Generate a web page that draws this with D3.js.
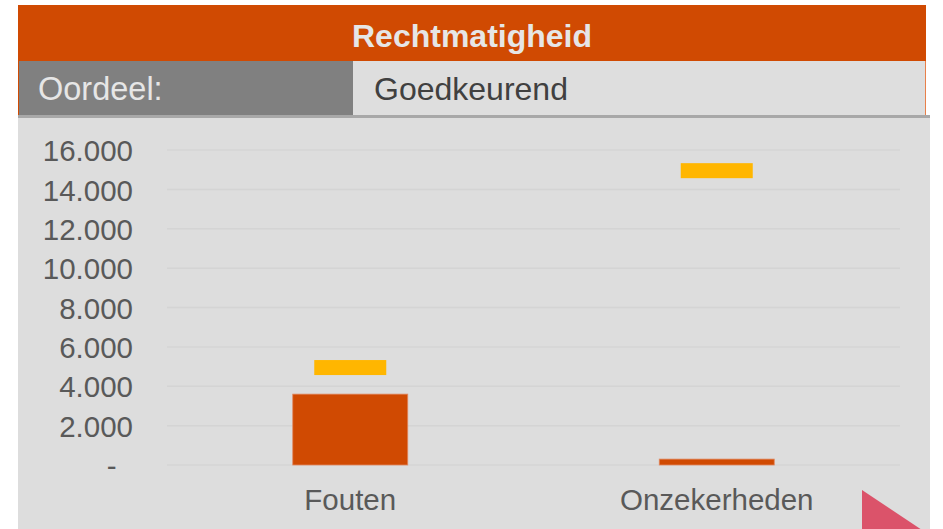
<!DOCTYPE html>
<html>
<head>
<meta charset="utf-8">
<script src="https://cdn.jsdelivr.net/npm/d3@7"></script>
<style>
  body { margin: 0; background: #fff; }
  svg { display: block; font-family: "Liberation Sans", Arial, sans-serif; }
</style>
</head>
<body>
<svg width="943" height="529"></svg>
<script>
// data
const title = 'Rechtmatigheid';
const oordeelLabel = 'Oordeel:';
const oordeelValue = 'Goedkeurend';
const categories = ['Fouten', 'Onzekerheden'];
const barValues = [3600, 300];
const markerValues = [4950, 14950];
const yTicks = [0, 2000, 4000, 6000, 8000, 10000, 12000, 14000, 16000];

const svg = d3.select('svg');

// header
svg.append('rect').attr('x', 18).attr('y', 5).attr('width', 908).attr('height', 56).attr('fill', '#D04A02');
svg.append('text').attr('x', 472).attr('y', 47).attr('text-anchor', 'middle')
  .attr('font-size', 32).attr('font-weight', 'bold').attr('fill', '#E6E6E6').text(title);

svg.append('rect').attr('x', 18).attr('y', 61).attr('width', 335).attr('height', 54).attr('fill', '#808080');
svg.append('rect').attr('x', 353).attr('y', 61).attr('width', 573).attr('height', 54).attr('fill', '#DEDEDE');
svg.append('line').attr('x1', 18.5).attr('x2', 18.5).attr('y1', 61).attr('y2', 115).attr('stroke', '#D04A02');
svg.append('line').attr('x1', 925.5).attr('x2', 925.5).attr('y1', 61).attr('y2', 115).attr('stroke', '#E8804A');
svg.append('rect').attr('x', 18).attr('y', 115).attr('width', 912).attr('height', 3).attr('fill', '#A8A8A8');
svg.append('text').attr('x', 38).attr('y', 100).attr('font-size', 32.5).attr('fill', '#E6E6E6').text(oordeelLabel);
svg.append('text').attr('x', 374).attr('y', 100).attr('font-size', 32).attr('fill', '#404040').text(oordeelValue);

// chart area
svg.append('rect').attr('x', 18).attr('y', 118).attr('width', 912).attr('height', 411).attr('fill', '#DDDDDD');

const x = d3.scaleBand().domain(categories).range([167, 900]);
const y = d3.scaleLinear().domain([0, 16000]).range([465, 150]);

const fmt = d => d === 0 ? '-\u00A0\u00A0' : d3.format(',')(d).replace(/,/g, '.');

// gridlines
svg.append('g').selectAll('line').data(yTicks).join('line')
  .attr('x1', 167).attr('x2', 900)
  .attr('y1', d => y(d)).attr('y2', d => y(d))
  .attr('stroke', '#D4D4D4').attr('stroke-width', 1.5);

// y axis
const yAxis = svg.append('g').attr('transform', 'translate(133,0)')
  .call(d3.axisLeft(y).tickValues(yTicks).tickFormat(fmt).tickSize(0).tickPadding(0));
yAxis.select('.domain').remove();
yAxis.selectAll('text').attr('font-size', 29.5).attr('fill', '#595959')
  .attr('font-family', '"Liberation Sans", Arial, sans-serif').attr('dy', '0.36em');

// x axis labels
const xAxis = svg.append('g').attr('transform', 'translate(0,510)')
  .call(d3.axisBottom(x).tickSize(0).tickPadding(0));
xAxis.select('.domain').remove();
xAxis.selectAll('text').attr('font-size', 29.5).attr('fill', '#595959')
  .attr('font-family', '"Liberation Sans", Arial, sans-serif').attr('dy', 0);

// bars
const barW = 115;
svg.append('g').selectAll('rect').data(categories).join('rect')
  .attr('x', d => x(d) + x.bandwidth() / 2 - barW / 2)
  .attr('y', (d, i) => y(barValues[i]))
  .attr('width', barW)
  .attr('height', (d, i) => y(0) - y(barValues[i]))
  .attr('fill', '#D04A02')
  .attr('stroke', '#E08860').attr('stroke-width', 0.8);

// target markers
const markW = 72, markH = 15;
svg.append('g').selectAll('rect').data(categories).join('rect')
  .attr('x', d => x(d) + x.bandwidth() / 2 - markW / 2)
  .attr('y', (d, i) => y(markerValues[i]) - markH / 2)
  .attr('width', markW)
  .attr('height', markH)
  .attr('fill', '#FFB600');

// next arrow
svg.append('path').attr('d', 'M862,490 L925,532 L862,574 Z').attr('fill', '#DB536A');
</script>
</body>
</html>
